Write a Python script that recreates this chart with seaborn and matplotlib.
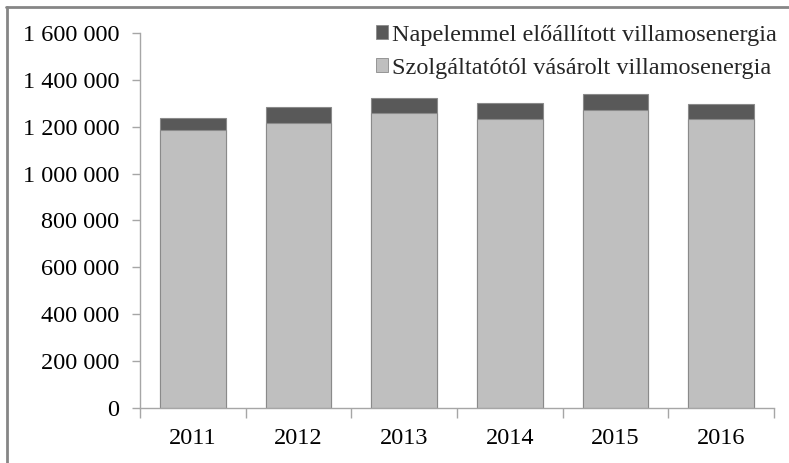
import matplotlib
matplotlib.use("Agg")
import matplotlib.pyplot as plt
import seaborn as sns
import pandas as pd
from matplotlib.patches import Patch
from matplotlib.ticker import FuncFormatter, FixedLocator
from matplotlib.lines import Line2D

years = ["2011", "2012", "2013", "2014", "2015", "2016"]
purchased = [1188000, 1214000, 1259000, 1233000, 1272000, 1233000]
solar = [49000, 71000, 63000, 67000, 67000, 63000]
label_solar = "Napelemmel előállított villamosenergia"
label_purchased = "Szolgáltatótól vásárolt villamosenergia"

sns.set_style("white")
plt.rcParams["font.family"] = ["Liberation Serif", "DejaVu Serif"]

df = pd.DataFrame({"year": years, "purchased": purchased, "solar": solar})
df["total"] = df["purchased"] + df["solar"]

fig = plt.figure(figsize=(7.89, 4.63), dpi=100)
ax = fig.add_axes([140 / 789, 1 - 408 / 463, (774 - 140) / 789, (408 - 33) / 463])

dark = "#595959"
light = "#bfbfbf"
sns.barplot(data=df, x="year", y="total", color=dark, width=0.62, ax=ax,
            edgecolor="#8a8a8a", linewidth=0.8, saturation=1)
sns.barplot(data=df, x="year", y="purchased", color=light, width=0.62, ax=ax,
            edgecolor="#8a8a8a", linewidth=0.8, saturation=1)

ax.set_xlim(-0.5, 5.5)
ax.set_ylim(0, 1600000)
ax.set_yticks(range(0, 1600001, 200000))
ax.yaxis.set_major_formatter(FuncFormatter(lambda v, p: f"{int(v):,}".replace(",", " ")))
ax.set_xlabel("")
ax.set_ylabel("")

for s in ["top", "right"]:
    ax.spines[s].set_visible(False)
axis_col = "#a6a6a6"
for s in ["left", "bottom"]:
    ax.spines[s].set_color(axis_col)
    ax.spines[s].set_linewidth(1.0)

fs = 17.5
ax.tick_params(axis="y", direction="out", length=6, width=1, color=axis_col,
               labelsize=fs, pad=9, left=True)
ax.tick_params(axis="x", which="major", length=0, labelsize=fs, pad=14.5)
ax.xaxis.set_minor_locator(FixedLocator([i - 0.5 for i in range(7)]))
ax.tick_params(axis="x", which="minor", direction="out", length=7, width=1,
               color=axis_col, bottom=True)
for lab in ax.get_xticklabels() + ax.get_yticklabels():
    lab.set_color("black")

handles = [Patch(facecolor=dark, edgecolor="#8a8a8a", linewidth=0.6, label=label_solar),
           Patch(facecolor=light, edgecolor="#8a8a8a", linewidth=0.6, label=label_purchased)]
fig.legend(handles=handles, loc="upper right", bbox_to_anchor=(777 / 789, 1 - 25 / 463),
           frameon=False, fontsize=fs, handlelength=0.5, handleheight=0.5,
           handletextpad=0.17, labelspacing=0.48, borderpad=0, borderaxespad=0)

# figure border (left and top edges visible)
fig.add_artist(Line2D([6.5 / 789, 6.5 / 789], [0, 1 - 7 / 463], transform=fig.transFigure,
                      color="#868686", linewidth=2))
fig.add_artist(Line2D([6 / 789, 1], [1 - 7 / 463, 1 - 7 / 463], transform=fig.transFigure,
                      color="#868686", linewidth=2))

fig.savefig("out.png", dpi=100)
